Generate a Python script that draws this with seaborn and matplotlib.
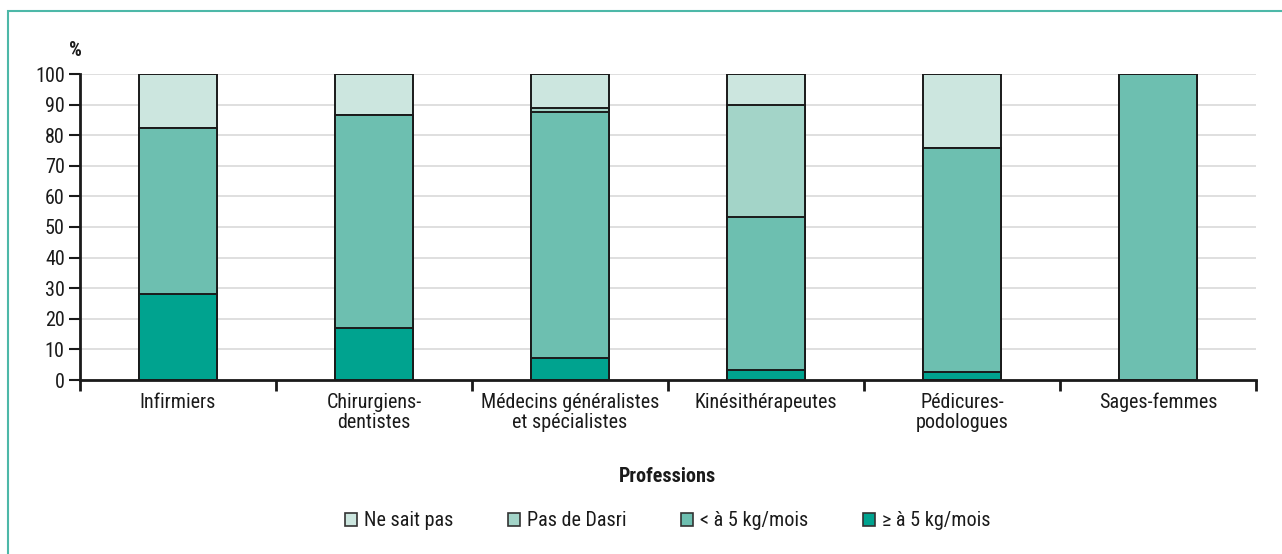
import matplotlib
matplotlib.use("Agg")
import matplotlib.pyplot as plt
import matplotlib.patches as mpatches
from matplotlib import font_manager
import seaborn as sns
import pandas as pd
import numpy as np

professions = ["Infirmiers", "Chirurgiens-\ndentistes", "Médecins généralistes\net spécialistes",
               "Kinésithérapeutes", "Pédicures-\npodologues", "Sages-femmes"]
series_names = ["Ne sait pas", "Pas de Dasri", "< à 5 kg/mois", "≥ à 5 kg/mois"]
sup5 = [28.1, 16.9, 7.3, 3.3, 2.7, 0.0]
inf5 = [54.3, 69.6, 80.3, 49.9, 73.2, 100.0]
pas_dasri = [0.0, 0.0, 1.3, 36.6, 0.0, 0.0]
ne_sait_pas = [17.6, 13.5, 11.1, 10.2, 24.1, 0.0]
colors = ["#CCE6DF", "#A3D4C8", "#6DBFB0", "#00A38F"]

sns.set_theme(style="white")
installed = {f.name for f in font_manager.fontManager.ttflist}
narrow = None
for cand in ["Liberation Sans Narrow", "DejaVu Sans Condensed", "Roboto Condensed",
             "Open Sans Condensed", "Noto Sans Condensed"]:
    if cand in installed:
        narrow = cand
        break
families = ([narrow] if narrow else []) + ["Liberation Sans", "DejaVu Sans"]
plt.rcParams["font.family"] = families
fs = 14.5 if narrow else 12

W, H = 1282, 554
fig = plt.figure(figsize=(W / 100, H / 100), dpi=100)
ax = fig.add_axes([80 / W, (H - 380) / H, (1256 - 80) / W, (380 - 74) / H])

df = pd.DataFrame({"prof": professions, "sup5": sup5, "inf5": inf5,
                   "pas": pas_dasri, "nsp": ne_sait_pas})
df["c1"] = df["sup5"]
df["c2"] = df["c1"] + df["inf5"]
df["c3"] = df["c2"] + df["pas"]
df["c4"] = df["c3"] + df["nsp"]

for col, color in zip(["c4", "c3", "c2", "c1"], colors):
    sns.barplot(data=df, x="prof", y=col, color=color, width=0.4, ax=ax,
                edgecolor="#1a1a1a", linewidth=1.4, saturation=1, errorbar=None)

ax.set_xlim(-0.5, 5.5)
ax.set_ylim(0, 100)
ax.set_yticks(np.arange(0, 101, 10))
ax.yaxis.grid(True, color="#D9D9D9", linewidth=1.2)
ax.set_axisbelow(True)
ax.set_xlabel("")
ax.set_ylabel("")
for s in ["top", "right"]:
    ax.spines[s].set_visible(False)
for s in ["left", "bottom"]:
    ax.spines[s].set_color("#1a1a1a")
    ax.spines[s].set_linewidth(2)

ax.tick_params(axis="y", which="major", direction="out", length=8, width=1.5,
               color="#1a1a1a", labelsize=fs, labelcolor="#1a1a1a", pad=3, left=True)
ax.set_xticks(range(6))
ax.set_xticklabels(professions, fontsize=fs, color="#1a1a1a", linespacing=1.1)
ax.tick_params(axis="x", which="major", length=0, pad=9)
ax.set_xticks(np.arange(-0.5, 6, 1), minor=True)
ax.tick_params(axis="x", which="minor", direction="out", length=8, width=2,
               color="#1a1a1a", bottom=True)

fig.text(75.5 / W, 1 - 50 / H, "%", fontsize=fs, ha="center", va="center", fontweight="bold",
         color="#1a1a1a")
fig.text(668 / W, 1 - 476 / H, "Professions", fontsize=fs, ha="center", va="center",
         fontweight="bold", color="#1a1a1a")

handles = [mpatches.Patch(facecolor=c, edgecolor="#333333", linewidth=1.2) for c in colors]
leg = fig.legend(handles, series_names, loc="center", bbox_to_anchor=(668 / W, 1 - 521 / H),
                 ncol=4, frameon=False, fontsize=fs, handlelength=0.6, handleheight=0.6,
                 handletextpad=0.35, columnspacing=(2.7 if narrow else 3.3))
for t in leg.get_texts():
    t.set_color("#1a1a1a")

border = mpatches.Rectangle((8 / W, -0.1), 1.2, 1.1 - 11 / H, transform=fig.transFigure,
                            fill=False, edgecolor="#4DB8A8", linewidth=1.5)
fig.patches.append(border)

fig.savefig("out.png", dpi=100)
